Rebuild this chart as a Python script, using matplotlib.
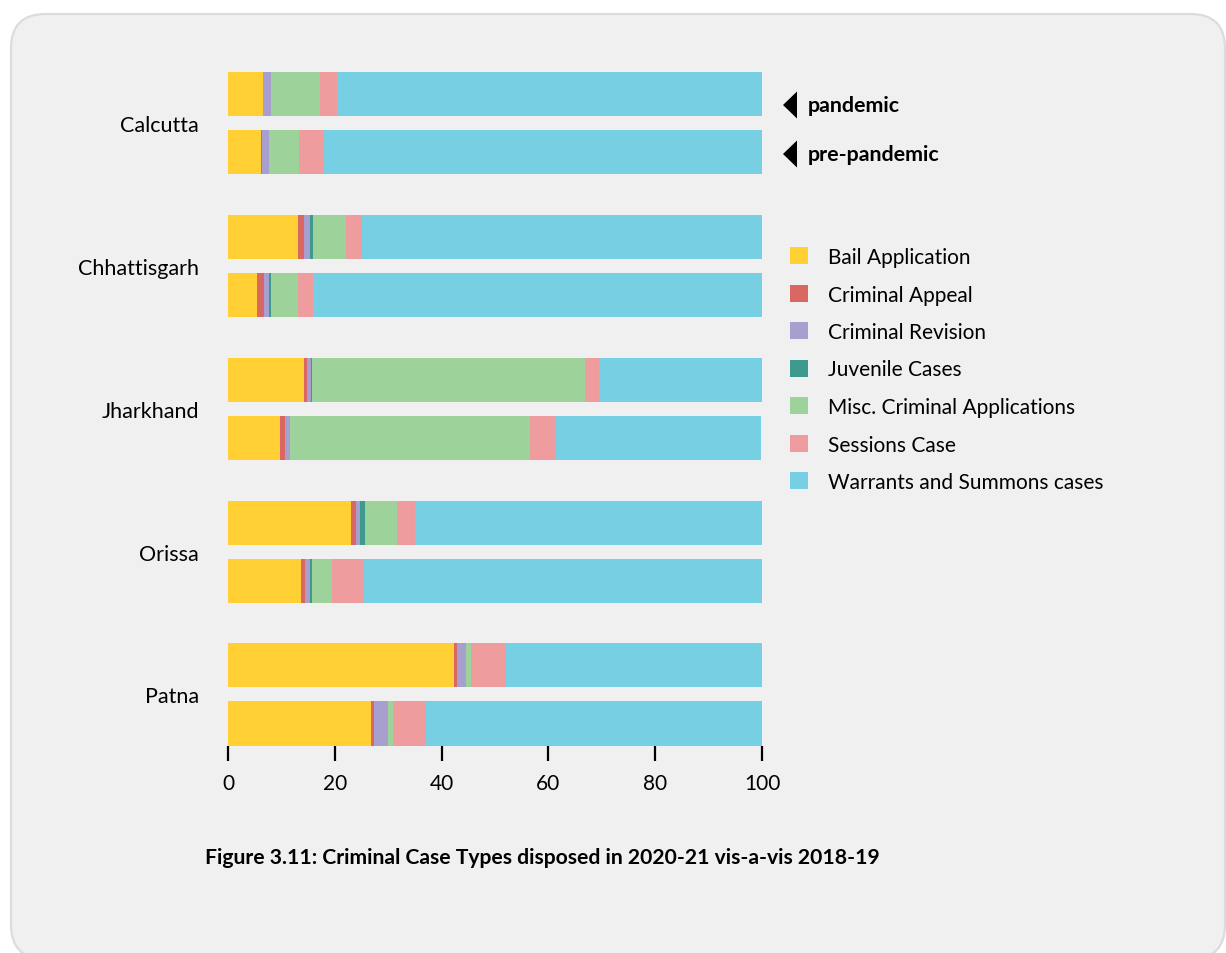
import matplotlib
matplotlib.use("Agg")
import matplotlib.pyplot as plt
from matplotlib.patches import FancyBboxPatch, Patch, Polygon
import numpy as np

plt.rcParams['font.family'] = ['Lato', 'DejaVu Sans']

courts = ["Calcutta", "Chhattisgarh", "Jharkhand", "Orissa", "Patna"]
periods = ["pandemic", "pre-pandemic"]
case_types = ["Bail Application", "Criminal Appeal", "Criminal Revision", "Juvenile Cases",
              "Misc. Criminal Applications", "Sessions Case", "Warrants and Summons cases"]
colors = ["#FFCF34", "#DA6862", "#A99FCF", "#3E9A8F", "#9DD39A", "#EE9C9E", "#76CFE3"]

# percentages per court: [pandemic, pre-pandemic]
bail = [[6.6, 6.1], [13.1, 5.4], [14.2, 9.7], [23.0, 13.7], [42.3, 26.8]]
appeal = [[0.0, 0.2], [1.1, 1.3], [0.6, 0.9], [0.9, 0.8], [0.6, 0.6]]
revision = [[1.5, 1.4], [1.1, 0.9], [0.8, 1.1], [0.8, 0.8], [1.7, 2.6]]
juvenile = [[0.0, 0.0], [0.6, 0.4], [0.2, 0.0], [0.9, 0.5], [0.0, 0.0]]
misc = [[9.1, 5.6], [6.2, 5.1], [51.1, 44.9], [6.0, 3.6], [0.9, 0.9]]
sessions = [[3.3, 4.6], [2.9, 2.8], [2.6, 4.9], [3.4, 6.0], [6.5, 6.1]]
warrants = [[79.5, 82.1], [75.0, 84.1], [30.5, 38.4], [65.0, 74.7], [48.0, 63.0]]
series = [bail, appeal, revision, juvenile, misc, sessions, warrants]

W, H = 1226, 954
fig = plt.figure(figsize=(W / 100, H / 100), dpi=100, facecolor="white")

# rounded panel
panel = FancyBboxPatch((11 / W, (H - 960) / H), (1214) / W, (960 - 15) / H,
                       boxstyle="round,pad=0,rounding_size=0.028",
                       transform=fig.transFigure, facecolor="#F0F0F0",
                       edgecolor="#DCDCDC", linewidth=1.6, zorder=-5,
                       mutation_aspect=W / H)
fig.patches.append(panel)

ax = fig.add_axes([228 / W, (H - 746.5) / H, 534 / W, (746.5 - 73) / H])
ax.set_facecolor("none")
ax.set_zorder(2)

bar_h = 44 / 58
group_gap = 142.75 / 58
ys = []
for g in range(len(courts)):
    ys.append([g * group_gap, g * group_gap + 1])

for p in range(2):
    left = np.zeros(len(courts))
    ypos = [ys[g][p] for g in range(len(courts))]
    for s, col in zip(series, colors):
        vals = np.array([s[g][p] for g in range(len(courts))])
        ax.barh(ypos, vals, left=left, height=bar_h, color=col, linewidth=0)
        left += vals

ax.set_xlim(0, 100)
ax.set_ylim(ys[-1][1] + bar_h / 2, ys[0][0] - bar_h / 2)
ax.set_xticks([0, 20, 40, 60, 80, 100])
ax.tick_params(axis="x", direction="out", length=11, width=1.6, labelsize=15,
               pad=8.5, colors="black")
ax.set_yticks([(ys[g][0] + ys[g][1]) / 2 for g in range(len(courts))])
ax.set_yticklabels(courts, fontsize=15.5)
ax.tick_params(axis="y", length=0, pad=21)
for sp in ["top", "right", "left", "bottom"]:
    ax.spines[sp].set_visible(False)

# period markers
for label, yc in zip(periods, [106, 155]):
    tri = Polygon([(783 / W, (H - yc) / H), (797 / W, (H - yc + 13.5) / H),
                   (797 / W, (H - yc - 13.5) / H)], closed=True,
                  transform=fig.transFigure, facecolor="black", edgecolor="none")
    fig.patches.append(tri)
    fig.text(808 / W, (H - yc) / H, label, fontsize=15.4, fontweight="bold",
             va="center", ha="left")

handles = [Patch(facecolor=c, edgecolor="none") for c in colors]
fig.legend(handles, case_types, loc="upper left", bbox_to_anchor=(790 / W, (H - 248) / H),
           frameon=False, fontsize=15, handlelength=0.865, handleheight=0.865,
           handletextpad=0.96, labelspacing=0.84, borderaxespad=0, borderpad=0)

fig.text(205 / W, (H - 858.5) / H,
         "Figure 3.11: Criminal Case Types disposed in 2020-21 vis-a-vis 2018-19",
         fontsize=15.2, fontweight="bold", va="center", ha="left")

fig.savefig("out.png", dpi=100, facecolor="white")
